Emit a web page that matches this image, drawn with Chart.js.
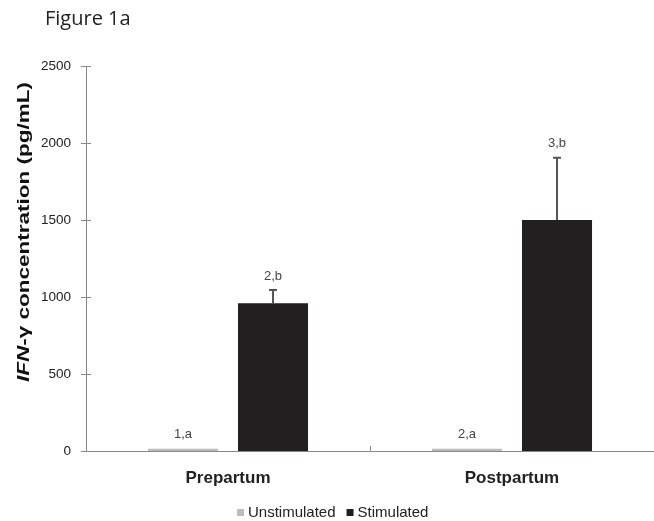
<!DOCTYPE html>
<html>
<head>
<meta charset="utf-8">
<script src="https://cdn.jsdelivr.net/npm/chart.js@4"></script>
<style>
    body { margin: 0; background: #fff; }
    #wrap { position: relative; width: 654px; height: 521px; }
</style>
</head>
<body>
<div id="wrap"><canvas id="ifnChart" width="654" height="521"></canvas></div>
<script>
// data
const categories = ["Prepartum", "Postpartum"];
const unstimulated = [15, 15];
const stimulated = [960, 1500];
const unstimErr = [0, 0];
const stimErr = [85, 405];
const unstimLetters = ["1,a", "2,a"];
const stimLetters = ["2,b", "3,b"];
const yTicks = [0, 500, 1000, 1500, 2000, 2500];

const FONT = "'Liberation Sans', Arial, sans-serif";

// error bars, letters, ticks, titles, legend
const extras = {
    id: "extras",
    afterDatasetsDraw(chart) {
        const ctx = chart.ctx;
        const x = chart.scales.x;
        const y = chart.scales.y;
        const errs = [unstimErr, stimErr];
        const letters = [unstimLetters, stimLetters];

        chart.data.datasets.forEach((ds, i) => {
            const meta = chart.getDatasetMeta(i);
            meta.data.forEach((bar, j) => {
                const top = y.getPixelForValue(ds.data[j] + errs[i][j]);
                if (errs[i][j] > 0) {
                    ctx.save();
                    ctx.strokeStyle = "#555";
                    ctx.lineWidth = 2;
                    ctx.beginPath();
                    ctx.moveTo(bar.x, bar.y);
                    ctx.lineTo(bar.x, top);
                    ctx.moveTo(bar.x - 4, top);
                    ctx.lineTo(bar.x + 4, top);
                    ctx.stroke();
                    ctx.restore();
                }
                ctx.save();
                ctx.fillStyle = "#444";
                ctx.font = "13px " + FONT;
                ctx.textAlign = "center";
                ctx.textBaseline = "middle";
                ctx.fillText(letters[i][j], bar.x, top - 14);
                ctx.restore();
            });
        });

        // y ticks crossing the axis
        ctx.save();
        ctx.strokeStyle = "#888";
        ctx.lineWidth = 1;
        ctx.beginPath();
        yTicks.forEach(v => {
            const py = Math.round(y.getPixelForValue(v)) + 0.5;
            ctx.moveTo(x.left - 5, py);
            ctx.lineTo(x.left + 5, py);
        });
        // divider between categories
        const mid = Math.round(x.getPixelForValue(0.5)) + 0.5;
        ctx.moveTo(mid, y.bottom);
        ctx.lineTo(mid, y.bottom - 5);
        ctx.stroke();
        ctx.restore();

        // figure label
        ctx.save();
        ctx.fillStyle = "#222";
        ctx.font = "20px 'Open Sans', sans-serif";
        ctx.textBaseline = "alphabetic";
        ctx.fillText("Figure 1a", 45, 25);
        ctx.restore();

        // y axis title, IFN in italics
        ctx.save();
        ctx.translate(29, 232);
        ctx.rotate(-Math.PI / 2);
        const part1 = "IFN";
        const part2 = "-\u03b3 concentration (pg/mL)";
        ctx.font = "italic bold 16px " + FONT;
        const w1 = ctx.measureText(part1).width;
        ctx.font = "bold 16px " + FONT;
        const w2 = ctx.measureText(part2).width;
        const stretch = 300 / (w1 + w2);
        ctx.scale(stretch, 1);
        ctx.fillStyle = "#111";
        ctx.textBaseline = "alphabetic";
        let start = -(w1 + w2) / 2;
        ctx.font = "italic bold 16px " + FONT;
        ctx.fillText(part1, start, 0);
        ctx.font = "bold 16px " + FONT;
        ctx.fillText(part2, start + w1, 0);
        ctx.restore();

        // legend
        ctx.save();
        ctx.font = "15px " + FONT;
        ctx.textBaseline = "middle";
        let lx = 237;
        const ly = 513;
        chart.data.datasets.forEach(ds => {
            ctx.fillStyle = ds.backgroundColor;
            ctx.fillRect(lx, ly - 4, 7, 7);
            ctx.fillStyle = "#222";
            ctx.fillText(ds.label, lx + 11, ly);
            lx += 11 + ctx.measureText(ds.label).width + 11;
        });
        ctx.restore();
    }
};

new Chart(document.getElementById("ifnChart"), {
    type: "bar",
    data: {
        labels: categories,
        datasets: [
            {
                label: "Unstimulated",
                data: unstimulated,
                backgroundColor: "#bdbdbd",
                borderWidth: 0,
                categoryPercentage: 0.634,
                barPercentage: 0.778
            },
            {
                label: "Stimulated",
                data: stimulated,
                backgroundColor: "#231f20",
                borderWidth: 0,
                categoryPercentage: 0.634,
                barPercentage: 0.778
            }
        ]
    },
    plugins: [extras],
    options: {
        responsive: false,
        animation: false,
        layout: { padding: { top: 66, left: 0, right: 0, bottom: 0 } },
        plugins: {
            title: { display: false },
            tooltip: { enabled: false },
            legend: { display: false }
        },
        scales: {
            x: {
                afterFit: (scale) => { scale.height = 70; },
                grid: { display: false },
                border: { display: true, color: "#888", width: 1 },
                ticks: {
                    padding: 9,
                    color: "#222",
                    font: { family: FONT, size: 17, weight: "bold" }
                }
            },
            y: {
                min: 0,
                max: 2500,
                afterFit: (scale) => { scale.width = 86; },
                afterBuildTicks: (scale) => {
                    scale.ticks = yTicks.map(v => ({ value: v }));
                },
                grid: { display: false, drawTicks: false },
                border: { display: true, color: "#888", width: 1 },
                ticks: {
                    padding: 15,
                    color: "#222",
                    font: { family: FONT, size: 13.5 },
                    callback: (v) => String(v)
                }
            }
        }
    }
});
</script>
</body>
</html>
